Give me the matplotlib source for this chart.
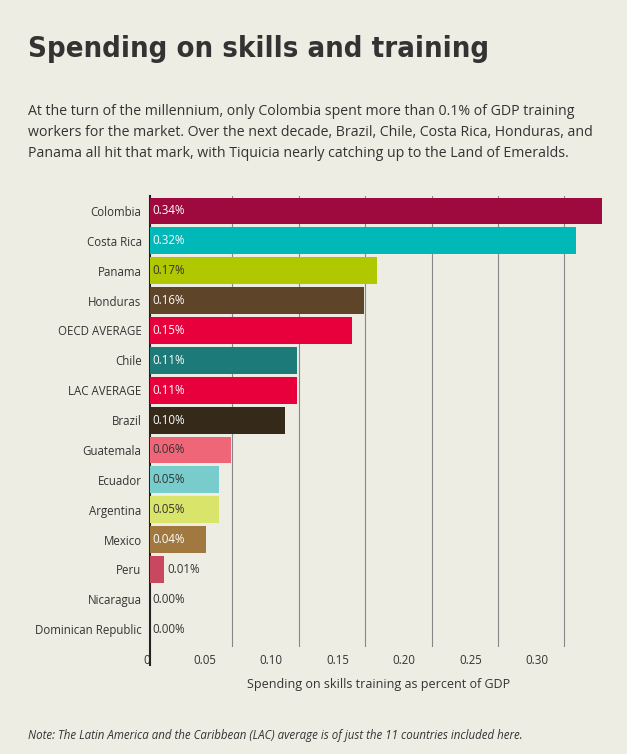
import matplotlib
matplotlib.use("Agg")
import matplotlib.pyplot as plt

countries = ["Colombia","Costa Rica","Panama","Honduras","OECD AVERAGE","Chile","LAC AVERAGE","Brazil",
             "Guatemala","Ecuador","Argentina","Mexico","Peru","Nicaragua","Dominican Republic"]
values = [0.34,0.321,0.171,0.161,0.152,0.111,0.111,0.102,0.061,0.052,0.052,0.042,0.011,0.0,0.0]
labels = ["0.34%","0.32%","0.17%","0.16%","0.15%","0.11%","0.11%","0.10%","0.06%","0.05%","0.05%","0.04%","0.01%","0.00%","0.00%"]
colors = ["#9e0a3d","#00b8b8","#b0c800","#5e4428","#e8003d","#1c7a78","#e8003d","#35291a",
          "#ee6677","#78cccc","#d8e46a","#a07840","#c84860","#333333","#333333"]
light = {"Panama","Guatemala","Ecuador","Argentina"}
xticks = [0,0.05,0.10,0.15,0.20,0.25,0.30]
xticklabels = ["0","0.05","0.10","0.15","0.20","0.25","0.30"]

bg = "#eeede3"
plt.rcParams['font.family'] = ['Open Sans','DejaVu Sans']
fig = plt.figure(figsize=(6.27,7.54), dpi=100, facecolor=bg)
ax = fig.add_axes([0.239,0.118,0.73,0.622], facecolor=bg)

n = len(countries)
ys = list(range(n))
ax.barh(ys, values, height=0.9, color=colors, zorder=3)
ax.set_ylim(n+0.2, -0.5)
ax.set_xlim(0,0.3445)
for y,v,l,c in zip(ys,values,labels,countries):
    if v < 0.03:
        ax.text(v+0.002, y, l, va='center', ha='left', fontsize=8.3, color="#333333", zorder=4)
    else:
        ax.text(0.002, y, l, va='center', ha='left', fontsize=8.3,
                color="#333333" if c in light else "white", zorder=4)
ax.set_yticks(ys)
ax.set_yticklabels(countries, fontsize=8.3, color="#333333")
ax.set_xticks(xticks)
ax.set_xticklabels(xticklabels, fontsize=8.3, color="#333333", ha='right')
ax.tick_params(length=0, pad=6)
ax.tick_params(axis='x', pad=-8)
for t in xticks[1:]:
    ax.axvline(t+0.012, ymin=0.04, color="#888888", lw=0.8, zorder=1)
for s in ['top','right','bottom']:
    ax.spines[s].set_visible(False)
ax.spines['left'].set_linewidth(1.5)
ax.spines['left'].set_color("#222222")
ax.set_xlabel("Spending on skills training as percent of GDP", fontsize=9, color="#333333", labelpad=8)

fig.text(0.045,0.925,"Spending on skills and training", fontsize=21, fontweight='bold',
         family=['Liberation Sans Narrow','DejaVu Sans'], color="#333333", fontstretch='condensed')
fig.text(0.045,0.792,"At the turn of the millennium, only Colombia spent more than 0.1% of GDP training\n"
         "workers for the market. Over the next decade, Brazil, Chile, Costa Rica, Honduras, and\n"
         "Panama all hit that mark, with Tiquicia nearly catching up to the Land of Emeralds.",
         fontsize=10.2, color="#333333", linespacing=1.55)
fig.text(0.045,0.02,"Note: The Latin America and the Caribbean (LAC) average is of just the 11 countries included here.",
         fontsize=8.3, style='italic', color="#333333")
fig.savefig("out.png", dpi=100, facecolor=bg)
